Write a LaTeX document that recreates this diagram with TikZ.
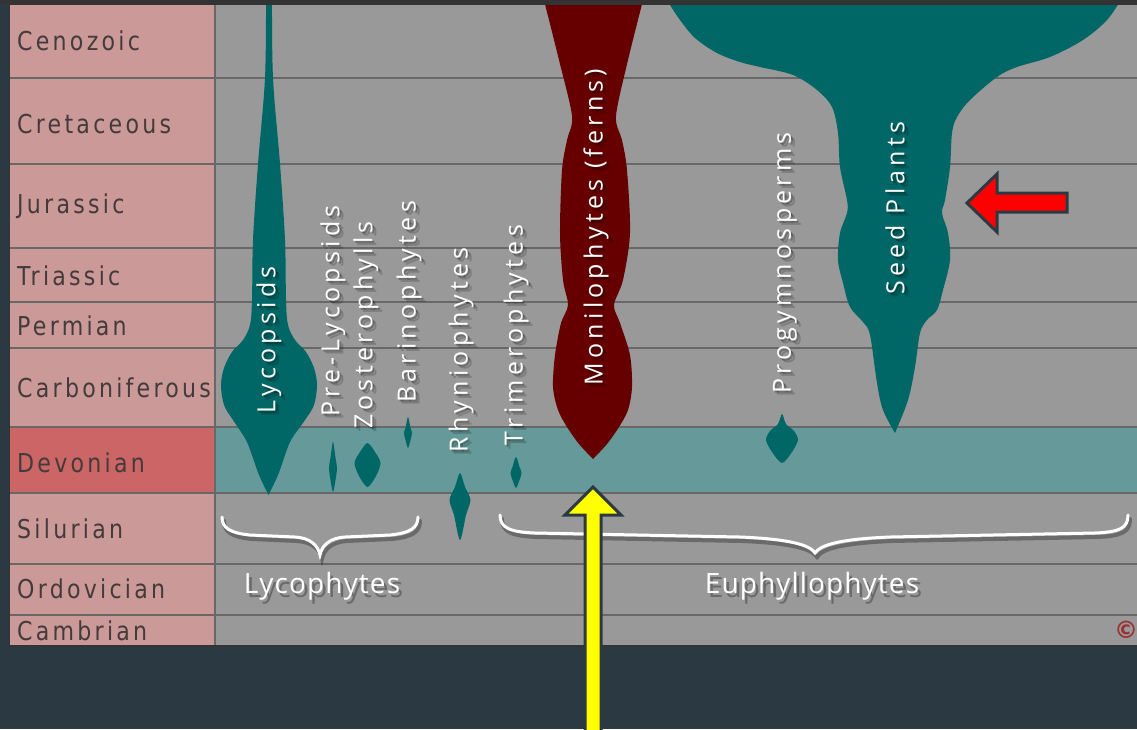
\documentclass[tikz,border=0pt]{standalone}
\usepackage{fontspec}
\setmainfont{Open Sans}
\newfontfamily\cladefont[LetterSpace=17]{Open Sans}
\newfontfamily\groupfont[LetterSpace=4]{Open Sans}
\newfontfamily\erafont[FakeStretch=0.85,LetterSpace=12.5]{DejaVu Sans}
\newfontfamily\symfont{DejaVu Sans}

\definecolor{bgdark}{HTML}{2B3A42}
\definecolor{framedark}{HTML}{333333}
\definecolor{erapink}{HTML}{CC9999}
\definecolor{devred}{HTML}{CC6666}
\definecolor{chartgray}{HTML}{999999}
\definecolor{devband}{HTML}{669999}
\definecolor{gridline}{HTML}{686868}
\definecolor{plantteal}{HTML}{006666}
\definecolor{fernred}{HTML}{660000}
\definecolor{eratext}{HTML}{433B3B}
\definecolor{copyred}{HTML}{993333}
\definecolor{markyellow}{HTML}{FFFF00}
\definecolor{markred}{HTML}{FF0000}

\tikzset{
  eralabel/.style={anchor=base west, inner sep=0, text=eratext,
    font=\erafont\fontsize{26}{30}\selectfont},
  cladetext/.style={rotate=90, inner sep=0, text=white,
    font=\cladefont\fontsize{25}{29}\selectfont},
  cladeshadow/.style={cladetext, text=black},
  grouptext/.style={inner sep=0, text=white,
    font=\groupfont\fontsize{28}{32}\selectfont},
  groupshadow/.style={grouptext, text=black},
  brace/.style={draw=white, line width=3pt, line cap=round},
  braceshadow/.style={draw=black, line width=4pt, line cap=round},
  marker/.style={draw=bgdark, line width=3pt, line join=miter},
}

% rotated clade name with a soft drop shadow
\newcommand\cladelabel[4]{%
  \node[cladeshadow, opacity=.28] (#1-s1) at (#2+2,#3+2) {#4};
  \node[cladeshadow, opacity=.18] (#1-s2) at (#2+4,#3+4) {#4};
  \node[cladetext] (#1) at (#2,#3) {#4};}
% group name below a brace
\newcommand\grouplabel[4]{%
  \node[groupshadow, opacity=.3] (#1-s1) at (#2+3,#3+4) {#4};
  \node[grouptext] (#1) at (#2,#3) {#4};}

\begin{document}
\begin{tikzpicture}[x=1pt,y=-1pt]
\useasboundingbox (0,0) rectangle (1137,729);
\fill[bgdark] (0,0) rectangle (1137,729);
\fill[framedark] (0,0) rectangle (1137,4);

\begin{scope}
\clip (9,4) rectangle (1137,646);
% panels
\fill[erapink] (9,4) rectangle (215,646);
\fill[devred] (9,427) rectangle (215,493);
\fill[chartgray] (215,4) rectangle (1137,646);
\fill[devband] (215,427) rectangle (1137,493);
% period boundaries
\foreach \yy in {78,164,248,302,348,427,493,564,615}
  \draw[gridline, line width=1.6pt] (9,\yy) -- (1137,\yy);
\draw[gridline, line width=1.6pt] (215,4) -- (215,646);

% Lycopsids
\fill[plantteal] plot[smooth, tension=.55] coordinates {
  (272,-2)(273,78)(280,164)(285,240)(286,300)(288,325)(295,340)(306,352)
  (314,368)(317,385)(314,405)(305,420)(291,440)(284,458)(278,475)(268.5,495)}
  -- plot[smooth, tension=.55] coordinates {
  (268.5,495)(259,475)(253,458)(246,440)(233,420)(224,405)(221,385)(224,368)
  (232,352)(243,340)(250,325)(252,300)(253,240)(258,164)(265,78)(266,-2)} -- cycle;

% small Devonian/Silurian lineages
\fill[plantteal] plot[smooth cycle, tension=.5] coordinates {
  (333,442)(335.5,458)(337,468)(335.5,480)(333,492)(330.5,480)(329,468)(330.5,458)};
\fill[plantteal] plot[smooth cycle, tension=.45] coordinates {
  (367.5,443)(375,452)(380.5,463)(376,476)(367.5,487)(359,476)(354.5,463)(360,452)};
\fill[plantteal] plot[smooth cycle, tension=.5] coordinates {
  (408,417)(410.5,428)(412,433)(410.5,440)(408,448)(405.5,440)(404,433)(405.5,428)};
\fill[plantteal] plot[smooth cycle, tension=.5] coordinates {
  (460,473)(465,487)(470.5,500)(466,515)(460,540)(454,515)(449.5,500)(455,487)};
\fill[plantteal] plot[smooth cycle, tension=.5] coordinates {
  (516,457)(519.5,467)(521.5,473)(519.5,480)(516,488)(512.5,480)(510.5,473)(512.5,467)};
\fill[plantteal] plot[smooth cycle, tension=.45] coordinates {
  (782,414)(786,424)(794,431)(798,440)(792,452)(782,463)(772,452)(766,440)(770,431)(778,424)};

% Monilophytes
\fill[fernred] plot[smooth, tension=.5] coordinates {
  (544,-2)(545,4)(559,60)(572,116)(567,140)(562,170)(560,233)(563,280)(568,305)
  (561,323)(555,355)(553,387)(558,410)(567,427)(579,444)(593,459)}
  -- plot[smooth, tension=.5] coordinates {
  (593,459)(607,444)(619,427)(628,410)(632,387)(630,355)(620,323)(614,305)
  (623,280)(630,233)(627,170)(622,140)(616,116)(628,60)(642,4)(643,-2)} -- cycle;

% Seed plants
\fill[plantteal] plot[smooth, tension=.55] coordinates {
  (666,-2)(670,5)(680,20)(695,38)(717,53)(740,62)(760,67)(793,75)(817,90)
  (832,107)(838,133)(840,167)(847,200)(847,213)(840,233)(838,260)(843,283)
  (850,307)(863,322)(870,335)(877,383)(883,410)(895,433)}
  -- plot[smooth, tension=.55] coordinates {
  (895,433)(908,400)(915,367)(920,333)(927,320)(937,310)(943,290)(950,260)
  (948,233)(942,213)(945,200)(950,167)(952,133)(957,117)(970,100)(997,77)
  (1017,67)(1050,57)(1083,40)(1107,20)(1122,-2)} -- cycle;

% chart frame
\draw[framedark, line width=2pt] (9,4) rectangle (1140,646);
\end{scope}

% period names
\node[eralabel] (cenozoic)      at (17,50)  {Cenozoic};
\node[eralabel] (cretaceous)    at (17,133) {Cretaceous};
\node[eralabel] (jurassic)      at (17,213) {Jurassic};
\node[eralabel] (triassic)      at (17,285) {Triassic};
\node[eralabel] (permian)       at (17,335) {Permian};
\node[eralabel] (carboniferous) at (17,397) {Carboniferous};
\node[eralabel] (devonian)      at (17,472) {Devonian};
\node[eralabel] (silurian)      at (17,538) {Silurian};
\node[eralabel] (ordovician)    at (17,598) {Ordovician};
\node[eralabel] (cambrian)      at (17,640) {Cambrian};

% clade names
\cladelabel{lycopsids}{269}{340}{Lycopsids}
\cladelabel{prelycopsids}{333}{311}{Pre-Lycopsids}
\cladelabel{zosterophylls}{366}{325}{Zosterophylls}
\cladelabel{barinophytes}{409}{302}{Barinophytes}
\cladelabel{rhyniophytes}{461}{350}{Rhyniophytes}
\cladelabel{trimerophytes}{516}{335}{Trimerophytes}
\cladelabel{monilophytes}{596}{227}{Monilophytes (ferns)}
\cladelabel{progymnosperms}{785}{263}{Progymnosperms}
\cladelabel{seedplants}{895}{208}{Seed Plants}

% braces
\begin{scope}[opacity=.3]
\draw[braceshadow] (224,521) .. controls (224,532) and (232,537) .. (252,539)
  -- (297,541) .. controls (312,542) and (320,549) .. (322,559)
  .. controls (324,549) and (332,542) .. (347,541) -- (392,539)
  .. controls (412,537) and (420,532) .. (420,521);
\draw[braceshadow] (502,519) .. controls (502,532) and (512,536) .. (537,537)
  -- (742,541) .. controls (792,543) and (812,549) .. (817,557)
  .. controls (822,549) and (842,543) .. (892,541) -- (1097,537)
  .. controls (1122,536) and (1130,532) .. (1130,519);
\end{scope}
\draw[brace] (222,517) .. controls (222,528) and (230,533) .. (250,535)
  -- (295,537) .. controls (310,538) and (318,545) .. (320,555)
  .. controls (322,545) and (330,538) .. (345,537) -- (390,535)
  .. controls (410,533) and (418,528) .. (418,517);
\draw[brace] (500,515) .. controls (500,528) and (510,532) .. (535,533)
  -- (740,537) .. controls (790,539) and (810,545) .. (815,553)
  .. controls (820,545) and (840,539) .. (890,537) -- (1095,533)
  .. controls (1120,532) and (1128,528) .. (1128,515);

\grouplabel{lycophytes}{322}{586}{Lycophytes}
\grouplabel{euphyllophytes}{812}{586}{Euphyllophytes}

\node[inner sep=0, text=copyred, font=\symfont\bfseries\fontsize{24}{24}\selectfont]
  (copy) at (1126,630) {©};

% pointer arrows
\draw[marker, fill=markyellow] (593,487) -- (621,515) -- (601,515) -- (601,740)
  -- (585,740) -- (585,515) -- (565,515) -- cycle;
\draw[marker, fill=markred] (967,203) -- (997,174) -- (997,193) -- (1067,193)
  -- (1067,212) -- (997,212) -- (997,232) -- cycle;
\end{tikzpicture}
\end{document}
